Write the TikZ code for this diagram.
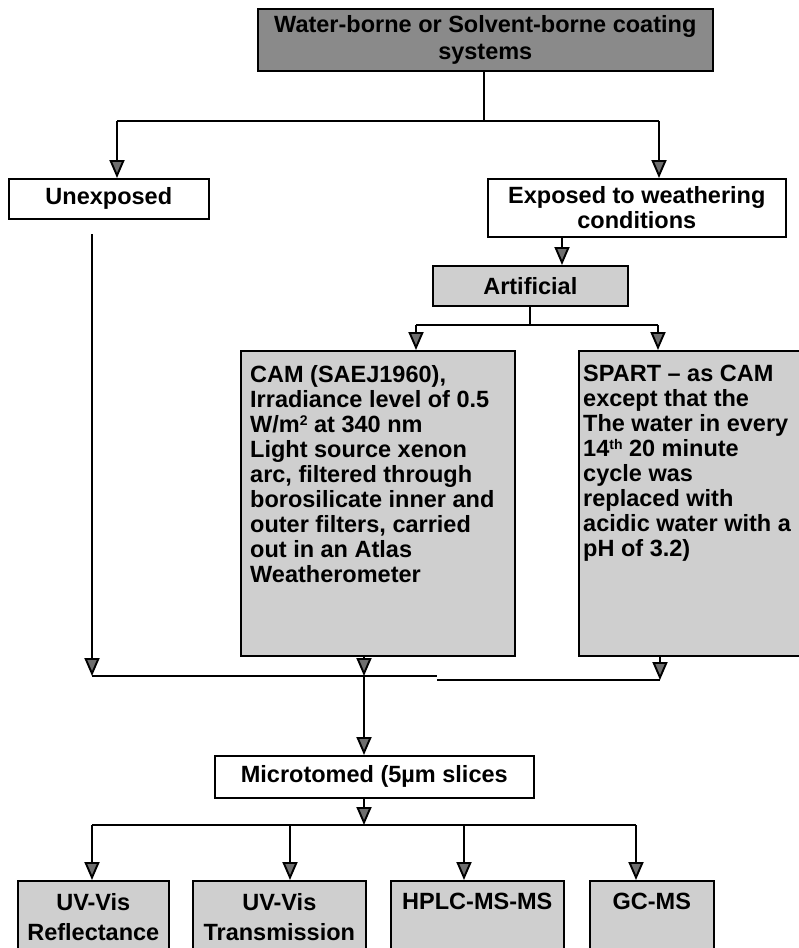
\documentclass[tikz,border=0pt]{standalone}
\usepackage{fontspec}
\setmainfont{Liberation Sans}
\usetikzlibrary{arrows.meta}
\definecolor{boxdark}{HTML}{8A8A8A}
\definecolor{boxlight}{HTML}{CFCFCF}
\definecolor{tipfill}{HTML}{6E6E6E}
% small raised text that stays within the line's cap height
\newcommand\upidx[1]{\raisebox{0.3em}{\fontsize{14}{14}\selectfont #1}}
\begin{document}
\begin{tikzpicture}[x=1pt,y=-1pt,
  txt/.style={font=\fontsize{23.5}{25}\selectfont\bfseries, inner sep=0pt},
  box/.style={draw, line width=1.6pt, rectangle, inner sep=0pt, anchor=north west},
  whitebox/.style={box, fill=white, txt, align=center},
  greybox/.style={box, fill=boxlight},
  line/.style={line width=1.9pt},
  arr/.style={line width=1.9pt, -{Triangle[width=15pt,length=18pt,fill=tipfill]}},
]
\useasboundingbox (0,0) rectangle (799,948);
\begin{scope}
\clip (0,0) rectangle (799,948);

% ---- boxes
\node[box, fill=boxdark, minimum width=455, minimum height=62, txt,
      align=center, font=\fontsize{23.5}{27}\selectfont\bfseries] (top) at (257,8)
  {Water-borne or Solvent-borne coating\\systems};
\node[whitebox, minimum width=200, minimum height=40] (unexp) at (8,178) {Unexposed};
\node[whitebox, minimum width=298, minimum height=58] (expo) at (487,178)
  {Exposed to weathering\\conditions};
\node[box, fill=boxlight, txt, minimum width=195, minimum height=40] (art) at (432,265) {Artificial};

\node[greybox, minimum width=274, minimum height=305] (cam) at (240,350) {};
\node[txt, anchor=north west, align=left] (camtext) at ([xshift=10pt,yshift=-15pt]cam.north west)
  {CAM (SAEJ1960),\\
   Irradiance level of 0.5\\
   W/m\upidx{2} at 340 nm\\
   Light source xenon\\
   arc, filtered through\\
   borosilicate inner and\\
   outer filters, carried\\
   out in an Atlas\\
   Weatherometer};

\node[greybox, minimum width=230, minimum height=305] (spart) at (578,350) {};
\node[txt, anchor=north west, align=left] (sparttext) at ([xshift=5pt,yshift=-15pt]spart.north west)
  {SPART -- as CAM\\
   except that the\\
   The water in every\\
   14\upidx{th} 20 minute\\
   cycle was\\
   replaced with\\
   acidic water with a\\
   pH of 3.2)};

\node[whitebox, minimum width=319, minimum height=42] (micro) at (214,755) {Microtomed (5µm slices};

\node[greybox, minimum width=151, minimum height=80] (uvr) at (17,880) {};
\node[greybox, minimum width=173, minimum height=80] (uvt) at (192,880) {};
\node[greybox, minimum width=173, minimum height=80] (hplc) at (390,880) {};
\node[greybox, minimum width=124, minimum height=80] (gcms) at (589,880) {};
\tikzset{bottomtext/.style={txt, anchor=north, align=center,
  font=\fontsize{23.5}{30}\selectfont\bfseries}}
\node[bottomtext] (uvrtext) at ([yshift=-13pt]uvr.north) {UV-Vis\\Reflectance};
\node[bottomtext] (uvttext) at ([yshift=-13pt]uvt.north) {UV-Vis\\Transmission};
\node[bottomtext] (hplctext) at ([yshift=-13pt]hplc.north) {HPLC-MS-MS};
\node[bottomtext] (gcmstext) at ([yshift=-13pt]gcms.north) {GC-MS};

% ---- junction points
\coordinate (j1) at (484,121);
\coordinate (j1l) at (117,121);
\coordinate (j1r) at (659,121);
\coordinate (e1) at (562,236);
\coordinate (j2l) at (416,325);
\coordinate (j2r) at (658,325);
\coordinate (u1) at (92,234);
\coordinate (m1) at (92,676);
\coordinate (m2) at (437,676);
\coordinate (m3) at (437,680);
\coordinate (m4) at (660,680);
\coordinate (mc) at (364,676);
\coordinate (j3) at (364,825);
\coordinate (j3l) at (92,825);
\coordinate (j3r) at (636,825);
\coordinate (t1) at (92,825);
\coordinate (t2) at (290,825);
\coordinate (t3) at (464,825);
\coordinate (t4) at (636,825);

% ---- connectors
\draw[line] (top.south -| j1) -- (j1);
\draw[line] (j1l) -- (j1r);
\draw[arr] (j1l) -- (j1l |- unexp.north);
\draw[arr] (j1r) -- (j1r |- expo.north);
\draw[arr] (e1) -- (e1 |- art.north);
\draw[line] (art.south) -- (art.south |- j2l);
\draw[line] (j2l) -- (j2r);
\draw[arr] (j2l) -- (j2l |- cam.north);
\draw[arr] (j2r) -- (j2r |- spart.north);

\draw[arr] (u1) -- (m1);
\draw[line] (m1) -- (m2);
\draw[line] (m3) -- (m4);
\draw[arr] (mc |- cam.south) -- (mc);
\draw[arr] (m4 |- spart.south) -- (m4);
\draw[arr] (mc) -- (mc |- micro.north);
\draw[arr] (mc |- micro.south) -- (j3);
\draw[line] (j3l) -- (j3r);
\draw[arr] (t1) -- (t1 |- uvr.north);
\draw[arr] (t2) -- (t2 |- uvt.north);
\draw[arr] (t3) -- (t3 |- hplc.north);
\draw[arr] (t4) -- (t4 |- gcms.north);
\end{scope}
\end{tikzpicture}
\end{document}
